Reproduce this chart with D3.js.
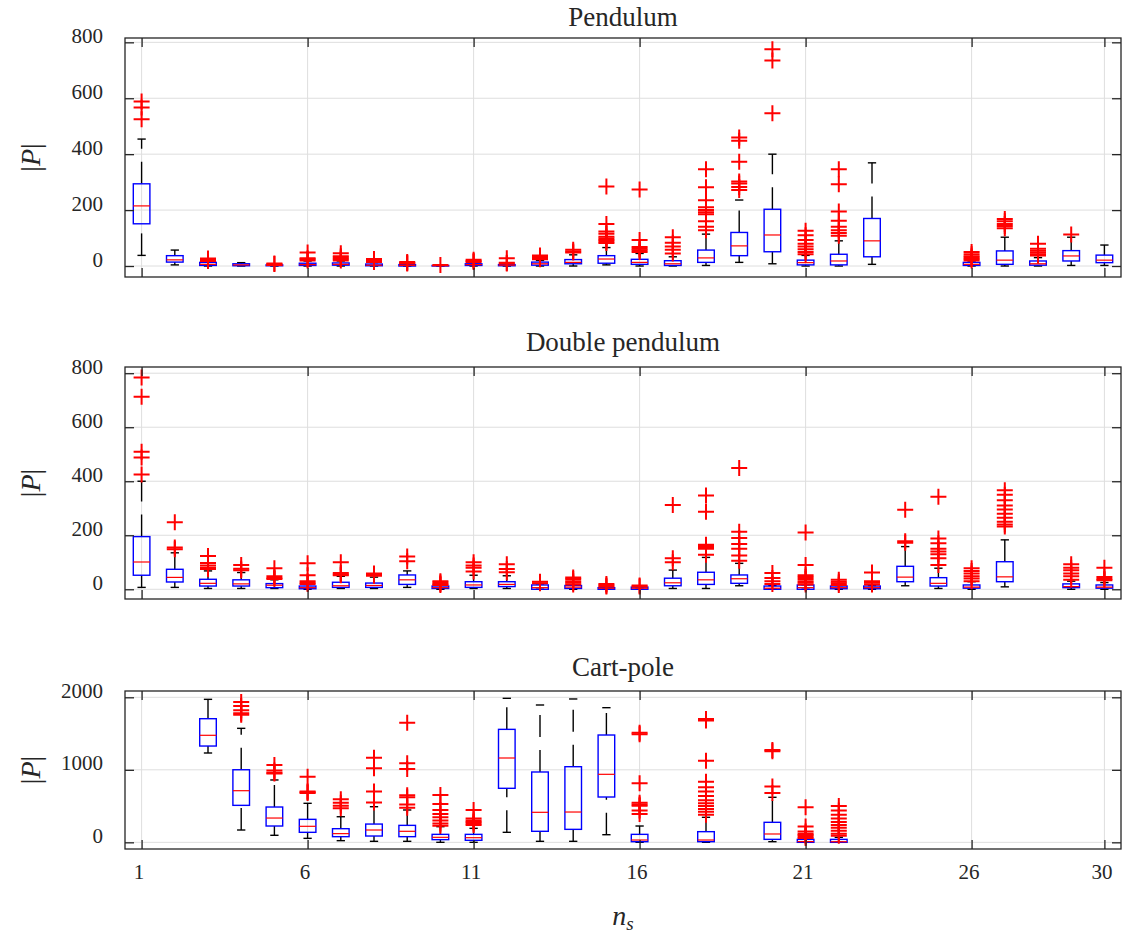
<!DOCTYPE html>
<html lang="en">
<head>
  <meta charset="UTF-8">
  <title>Box plots</title>
  <script src="https://cdn.jsdelivr.net/npm/d3@7"></script>
  <style>
    body { margin: 0; background: #fff; }
    svg text { fill: #262626; }
    .grid line { stroke: #dedede; stroke-width: 1; }
    .axis line { stroke: #262626; stroke-width: 1.3; }
    .axis text { font-size: 21px; }
    .title { font-size: 27px; text-anchor: middle; }
  </style>
</head>
<body>
  <svg width="1122" height="936"></svg>
  <script>
    // x categories and ticks
    const categories = d3.range(1, 31);
    const xTicks = [1, 6, 11, 16, 21, 26, 30];

    // [lower whisker, q1, median, q3, upper whisker] per n_s, null = no box
    const pendulumStats = [
      [38, 151, 215, 294, 454], [4, 14, 22, 37, 57], [0, 2, 6, 13, 16], [0, 1, 4, 8, 12],
      [0, 1, 2, 4, 6], [0, 2, 5, 10, 18], [0, 3, 6, 11, 18], [0, 1, 3, 7, 12],
      [0, 0, 2, 5, 8], [0, 0, 1, 2, 3], [0, 2, 5, 8, 12], [0, 1, 3, 5, 7],
      [0, 3, 8, 14, 20], [0, 8, 13, 23, 40], [4, 10, 25, 37, 66], [0, 6, 13, 24, 45],
      [0, 2, 8, 19, 33], [2, 13, 29, 57, 114], [13, 37, 72, 120, 236], [8, 51, 111, 203, 400],
      [0, 4, 12, 21, 38], [0, 4, 18, 42, 90], [6, 33, 90, 170, 369], null,
      null, [0, 2, 6, 13, 18], [0, 6, 21, 54, 103], [0, 3, 8, 18, 30],
      [2, 18, 36, 55, 103], [2, 12, 21, 39, 75]
    ];
    const pendulumOutliers = [
      [525, 567, 588], [], [18, 21, 24, 27], [], [7, 9], [20, 24, 28, 48], [20, 25, 30, 35, 46],
      [14, 18, 22, 25], [9, 11, 14], [4], [14, 18, 22], [9, 12, 28], [24, 28, 32, 36, 38],
      [48, 52, 58], [82, 88, 93, 98, 105, 115, 123, 150, 284], [50, 56, 62, 68, 93, 274],
      [45, 58, 70, 83, 103], [128, 140, 160, 185, 192, 200, 210, 235, 282, 346],
      [272, 283, 295, 302, 373, 448, 460], [546, 735, 775], [42, 50, 60, 70, 80, 93, 110, 126],
      [108, 118, 128, 140, 162, 195, 292, 346], [], [], [], [20, 25, 30, 35, 42, 50],
      [135, 143, 150, 160, 168], [38, 42, 48, 55, 62, 80], [113], []
    ];

    const doubleStats = [
      [7, 52, 101, 195, 400], [7, 27, 44, 74, 135], [3, 12, 22, 37, 68], [3, 12, 20, 35, 62],
      [3, 6, 15, 21, 35], [0, 2, 6, 12, 18], [3, 7, 13, 26, 48], [3, 7, 14, 23, 45],
      [7, 18, 35, 53, 68], [0, 3, 6, 12, 15], [3, 7, 16, 28, 52], [3, 10, 18, 28, 50],
      [0, 0, 6, 16, 20], [0, 3, 8, 14, 16], [0, 0, 4, 6, 8], [0, 0, 4, 8, 9],
      [3, 13, 24, 41, 71], [3, 18, 35, 63, 118], [13, 22, 39, 53, 96], [0, 0, 4, 12, 14],
      [0, 0, 6, 16, 17], [0, 2, 6, 12, 14], [0, 2, 6, 12, 14], [13, 28, 45, 85, 158],
      [3, 12, 22, 43, 78], [0, 4, 8, 16, 28], [9, 28, 46, 102, 183], null,
      [0, 6, 10, 20, 30], [0, 4, 8, 16, 25]
    ];
    const doubleOutliers = [
      [425, 488, 509, 713, 784], [148, 155, 248], [75, 80, 88, 97, 123], [70, 76, 90],
      [38, 42, 48, 78], [20, 24, 30, 52, 96], [52, 55, 60, 100], [50, 54, 58], [104, 121],
      [16, 20, 25, 30], [66, 80, 88, 100], [63, 75, 93], [22, 28], [18, 24, 30, 38, 44],
      [10, 14, 20], [10, 14], [100, 115, 312], [128, 150, 155, 160, 165, 287, 347],
      [106, 125, 150, 168, 190, 213, 449], [20, 30, 42, 60], [18, 24, 30, 38, 45, 52, 90, 210],
      [16, 22, 28, 35], [18, 24, 30, 62], [172, 178, 294], [90, 115, 130, 140, 150, 170, 188, 343],
      [30, 40, 48, 58, 68, 78], [232, 240, 250, 265, 280, 295, 310, 330, 350, 367], [],
      [35, 48, 58, 70, 80, 93], [33, 38, 45, 80]
    ];

    const cartStats = [
      null, null, [1232, 1328, 1476, 1705, 1972], [170, 510, 712, 1001, 1572],
      [97, 225, 335, 487, 860], [55, 138, 221, 317, 538], [23, 78, 120, 188, 353], [14, 87, 170, 252, 491],
      [14, 78, 152, 234, 446], [0, 37, 69, 110, 216], [0, 28, 64, 110, 193], [138, 745, 1163, 1558, 1986],
      [14, 152, 414, 970, 1894], [14, 179, 418, 1043, 1977], [105, 625, 938, 1480, 1857], [0, 9, 32, 110, 225],
      null, [0, 9, 32, 147, 345], null, [9, 41, 115, 276, 621],
      [0, 0, 10, 41, 50], [0, 0, 8, 41, 69], null, null, null, null, null, null, null, null
    ];
    const cartOutliers = [
      [], [], [], [1760, 1780, 1820, 1880, 1935], [950, 960, 990, 1066], [680, 690, 700, 905],
      [470, 505, 545, 595], [550, 700, 1020, 1167], [478, 520, 620, 650, 1010, 1090, 1650],
      [230, 260, 300, 345, 390, 445, 530, 652], [240, 260, 280, 300, 330, 446], [], [], [], [],
      [392, 440, 505, 520, 547, 814, 1490, 1512], [],
      [380, 420, 460, 500, 540, 580, 640, 700, 760, 836, 1126, 1680, 1700], [],
      [680, 770, 1255, 1275], [60, 80, 100, 120, 150, 218, 483],
      [90, 120, 160, 200, 240, 280, 330, 380, 440, 500], [], [], [], [], [], [], [], []
    ];

    const panelTitles = ['Pendulum', 'Double pendulum', 'Cart-pole'];
    const yTicks1 = [0, 200, 400, 600, 800];
    const yTicks2 = [0, 200, 400, 600, 800];
    const yTicks3 = [0, 1000, 2000];

    const font = 'Liberation Serif';

    const svg = d3.select('svg');
    const left = 125, right = 1121;

    const x = d3.scaleLinear().domain([0.5, 30.5]).range([left, right]);

    const panels = [
      { title: panelTitles[0], stats: pendulumStats, outliers: pendulumOutliers, ticks: yTicks1,
        top: 38, bottom: 277, domain: [-39.3, 815.5], titleY: 26 },
      { title: panelTitles[1], stats: doubleStats, outliers: doubleOutliers, ticks: yTicks2,
        top: 367, bottom: 599, domain: [-36, 823], titleY: 351 },
      { title: panelTitles[2], stats: cartStats, outliers: cartOutliers, ticks: yTicks3,
        top: 691, bottom: 849, domain: [-92, 2087], titleY: 676 }
    ];

    const boxHalf = 0.25, capHalf = 0.125, plus = 8;

    panels.forEach((p, pi) => {
      const y = d3.scaleLinear().domain(p.domain).range([p.bottom, p.top]);
      const g = svg.append('g');

      // grid
      const grid = g.append('g').attr('class', 'grid');
      grid.selectAll('.gx').data(xTicks).enter().append('line')
        .attr('x1', d => x(d)).attr('x2', d => x(d))
        .attr('y1', p.top).attr('y2', p.bottom);
      grid.selectAll('.gy').data(p.ticks).enter().append('line')
        .attr('x1', left).attr('x2', right)
        .attr('y1', d => y(d)).attr('y2', d => y(d));

      const rows = categories.map((c, i) => ({ c, s: p.stats[i] })).filter(d => d.s);

      const box = g.selectAll('.box').data(rows).enter().append('g');

      // whiskers: dashed, upper drawn from q3 outward, lower from the end inward
      box.append('line')
        .attr('x1', d => x(d.c)).attr('x2', d => x(d.c))
        .attr('y1', d => y(d.s[3])).attr('y2', d => y(d.s[4]))
        .attr('stroke', '#000').attr('stroke-width', 1.4).attr('stroke-dasharray', '22,13');
      box.append('line')
        .attr('x1', d => x(d.c)).attr('x2', d => x(d.c))
        .attr('y1', d => y(d.s[0])).attr('y2', d => y(d.s[1]))
        .attr('stroke', '#000').attr('stroke-width', 1.4).attr('stroke-dasharray', '22,13');
      [0, 4].forEach(k => {
        box.append('line')
          .attr('x1', d => x(d.c - capHalf)).attr('x2', d => x(d.c + capHalf))
          .attr('y1', d => y(d.s[k])).attr('y2', d => y(d.s[k]))
          .attr('stroke', '#000').attr('stroke-width', 1.4);
      });
      box.append('rect')
        .attr('x', d => x(d.c - boxHalf))
        .attr('width', x(1 + boxHalf) - x(1 - boxHalf))
        .attr('y', d => y(d.s[3]))
        .attr('height', d => Math.max(0.5, y(d.s[1]) - y(d.s[3])))
        .attr('fill', 'none').attr('stroke', '#0000ff').attr('stroke-width', 1.4);
      box.append('line')
        .attr('x1', d => x(d.c - boxHalf)).attr('x2', d => x(d.c + boxHalf))
        .attr('y1', d => y(d.s[2])).attr('y2', d => y(d.s[2]))
        .attr('stroke', '#ff0000').attr('stroke-width', 1.2);

      // outliers as '+'
      const pts = [];
      categories.forEach((c, i) => (p.outliers[i] || []).forEach(v => pts.push({ c, v })));
      g.selectAll('.out').data(pts).enter().append('path')
        .attr('d', d => {
          const cx = x(d.c), cy = y(d.v);
          return `M${cx - plus},${cy}H${cx + plus}M${cx},${cy - plus}V${cy + plus}`;
        })
        .attr('stroke', '#ff0000').attr('stroke-width', 2).attr('fill', 'none');

      // axes, ticks pointing inward on all four sides
      const ax = g.append('g').attr('class', 'axis');
      const yl = ax.append('g').attr('transform', `translate(${left},0)`)
        .call(d3.axisLeft(y).tickValues(p.ticks).tickSizeInner(-9).tickSizeOuter(0)
          .tickPadding(22).tickFormat(d3.format('d')));
      yl.selectAll('text').attr('dy', '0em');
      ax.append('g').attr('transform', `translate(${right},0)`)
        .call(d3.axisRight(y).tickValues(p.ticks).tickSizeInner(-9).tickSizeOuter(0).tickFormat(''));
      ax.append('g').attr('transform', `translate(0,${p.top})`)
        .call(d3.axisTop(x).tickValues(xTicks).tickSizeInner(-9).tickSizeOuter(0).tickFormat(''));
      const xb = ax.append('g').attr('transform', `translate(0,${p.bottom})`)
        .call(d3.axisBottom(x).tickValues(xTicks).tickSizeInner(-9).tickSizeOuter(0).tickPadding(30)
          .tickFormat(pi === 2 ? d3.format('d') : ''));
      xb.selectAll('text').attr('dy', '0em').attr('dx', -3);
      ax.selectAll('.domain').remove();
      ax.selectAll('g').attr('font-size', null).attr('font-family', font);

      g.append('rect')
        .attr('x', left).attr('y', p.top)
        .attr('width', right - left).attr('height', p.bottom - p.top)
        .attr('fill', 'none').attr('stroke', '#262626').attr('stroke-width', 1.3);

      g.append('text').attr('class', 'title')
        .attr('font-family', font)
        .attr('x', (left + right) / 2).attr('y', p.titleY)
        .text(p.title);

      const yc = (p.top + p.bottom) / 2;
      const lab = g.append('text')
        .attr('font-family', font)
        .attr('transform', `translate(40,${yc}) rotate(-90)`)
        .attr('text-anchor', 'middle')
        .style('font-size', '28px');
      lab.append('tspan').text('|');
      lab.append('tspan').style('font-style', 'italic').text('P');
      lab.append('tspan').text('|');
    });

    const xl = svg.append('text')
      .attr('font-family', font)
      .attr('x', 623).attr('y', 925)
      .attr('text-anchor', 'middle')
      .style('font-size', '28px');
    xl.append('tspan').style('font-style', 'italic').text('n');
    xl.append('tspan').style('font-style', 'italic').style('font-size', '19px').attr('dy', 5).text('s');
  </script>
</body>
</html>
